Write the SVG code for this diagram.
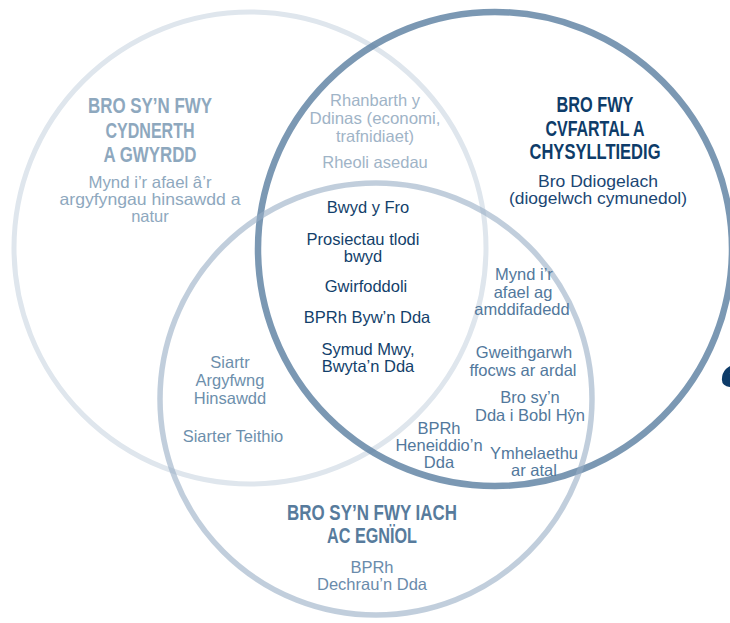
<svg xmlns="http://www.w3.org/2000/svg" width="730" height="623" viewBox="0 0 730 623">
<style>
  .t { font-family: "Liberation Sans", Arial, sans-serif; text-anchor: middle; }
  .h { font-family: "Liberation Sans", Arial, sans-serif; text-anchor: middle; font-weight: bold; font-size: 22px; }
  .b { font-size: 16.5px; }
  .c1 { fill: none; stroke: #dfe6ed; stroke-width: 5; }
  .c2 { fill: none; stroke: #5a7ea0; stroke-opacity: 0.8; stroke-width: 6.5; }
  .c3 { fill: none; stroke: #97aec4; stroke-opacity: 0.6; stroke-width: 5.5; }
</style>
<rect width="730" height="623" fill="#ffffff"/>
<g id="circles">
  <circle class="c1" cx="250" cy="248" r="236"/>
  <circle class="c2" cx="495" cy="249" r="237"/>
  <circle class="c3" cx="376" cy="399" r="216"/>
</g>
<g id="node-cydnerth">
  <text class="h" fill="#8ea8be"><tspan x="150" y="113" textLength="124" lengthAdjust="spacingAndGlyphs">BRO SY’N FWY</tspan><tspan x="150" y="138" textLength="89" lengthAdjust="spacingAndGlyphs">CYDNERTH</tspan><tspan x="150" y="162" textLength="93" lengthAdjust="spacingAndGlyphs">A GWYRDD</tspan></text>
  <text class="t b" fill="#8ea8be"><tspan x="150" y="188" textLength="123" lengthAdjust="spacingAndGlyphs">Mynd i’r afael â’r</tspan><tspan x="150" y="205" textLength="181" lengthAdjust="spacingAndGlyphs">argyfyngau hinsawdd a</tspan><tspan x="150" y="222">natur</tspan></text>
</g>
<g id="node-cyfartal">
  <text class="h" fill="#0e3c69"><tspan x="595" y="112" textLength="77" lengthAdjust="spacingAndGlyphs">BRO FWY</tspan><tspan x="595" y="136" textLength="99" lengthAdjust="spacingAndGlyphs">CVFARTAL A</tspan><tspan x="595" y="159" textLength="131" lengthAdjust="spacingAndGlyphs">CHYSYLLTIEDIG</tspan></text>
  <text class="t b" fill="#1a4673"><tspan x="598" y="187" textLength="120" lengthAdjust="spacingAndGlyphs">Bro Ddiogelach</tspan><tspan x="598" y="204" textLength="178" lengthAdjust="spacingAndGlyphs">(diogelwch cymunedol)</tspan></text>
</g>
<g id="node-iach">
  <text class="h" fill="#577b9c"><tspan x="372" y="520" textLength="170" lengthAdjust="spacingAndGlyphs">BRO SY’N FWY IACH</tspan><tspan x="372" y="543" textLength="90" lengthAdjust="spacingAndGlyphs">AC EGNÏOL</tspan></text>
  <text class="t b" fill="#6a8bab"><tspan x="372" y="573">BPRh</tspan><tspan x="372" y="590">Dechrau’n Dda</tspan></text>
</g>
<g id="node-overlap-top">
  <text class="t b" fill="#9fb4c7"><tspan x="375" y="106">Rhanbarth y</tspan><tspan x="375" y="124" textLength="131" lengthAdjust="spacingAndGlyphs">Ddinas (economi,</tspan><tspan x="375" y="142">trafnidiaet)</tspan><tspan x="375" y="168">Rheoli asedau</tspan></text>
</g>
<g id="node-overlap-left">
  <text class="t b" fill="#6d8fac"><tspan x="230" y="368">Siartr</tspan><tspan x="230" y="386">Argyfwng</tspan><tspan x="230" y="404">Hinsawdd</tspan><tspan x="233" y="442">Siarter Teithio</tspan></text>
</g>
<g id="node-overlap-right">
  <text class="t b" fill="#52789c"><tspan x="524" y="280">Mynd i’r</tspan><tspan x="523" y="298">afael ag</tspan><tspan x="522" y="315">amddifadedd</tspan><tspan x="524" y="358">Gweithgarwh</tspan><tspan x="523" y="376">ffocws ar ardal</tspan><tspan x="530" y="403">Bro sy’n</tspan><tspan x="530" y="421">Dda i Bobl Hŷn</tspan><tspan x="534" y="459">Ymhelaethu</tspan><tspan x="534" y="476">ar atal</tspan></text>
  <text class="t b" fill="#52789c"><tspan x="439" y="434">BPRh</tspan><tspan x="439" y="451">Heneiddio’n</tspan><tspan x="439" y="468">Dda</tspan></text>
</g>
<g id="node-center">
  <text class="t b" fill="#133f6b"><tspan x="368" y="213">Bwyd y Fro</tspan><tspan x="363" y="245">Prosiectau tlodi</tspan><tspan x="363" y="262">bwyd</tspan><tspan x="366" y="292">Gwirfoddoli</tspan><tspan x="367" y="323">BPRh Byw’n Dda</tspan><tspan x="368" y="355">Symud Mwy,</tspan><tspan x="368" y="372">Bwyta’n Dda</tspan></text>
</g>
<text x="718" y="416" font-family="Liberation Serif, serif" font-weight="bold" font-size="80" fill="#0e3c69">“</text>
</svg>
